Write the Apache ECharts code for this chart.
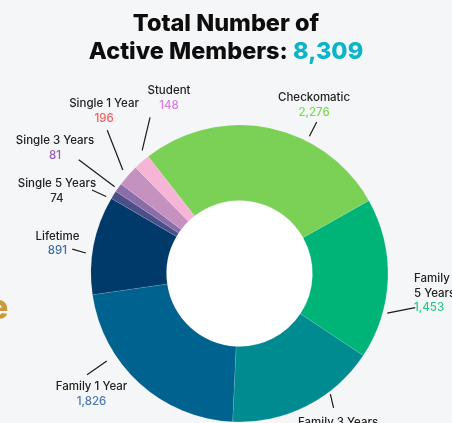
<!DOCTYPE html>
<html>
<head>
<meta charset="utf-8">
<script src="https://cdn.jsdelivr.net/npm/echarts@6/dist/echarts.min.js"></script>
<style>
  html, body { margin: 0; padding: 0; background: #f5f6f8; }
  #chart1 { width: 452px; height: 423px; }
</style>
</head>
<body>
<div id="chart1"></div>
<script>
// 会员类型 (顺时针, 从 Checkomatic 开始)
var categories = ['Checkomatic', 'Family 5 Years', 'Family 3 Years', 'Family 1 Year', 'Lifetime',
    'Single 5 Years', 'Single 3 Years', 'Single 1 Year', 'Student'];
var members = [2276, 1453, 1364, 1826, 891, 74, 81, 196, 148];
var total = 8309;

// 扇区颜色 / 数值文字颜色
var sliceColors = ['#7bd155', '#00b478', '#008b91', '#00628e', '#003a6b',
    '#4a4f88', '#8a6ea8', '#c592c0', '#f6b5d6'];
var valueColors = ['#7ed957', '#2ec98a', '#1f9aa0', '#4a78b5', '#3e6fa6',
    '#2b2b2b', '#9b59b6', '#f0605d', '#d77fe6'];

// 标签位置 (角度: 从正上方顺时针; 引线 [a0, r0, a1, r1], 文字 [角度, 半径, 对齐])
var leader = [[27, 154, 27, 170], [105, 153, 101, 179], [143, 151, 145, 164], [236.6, 159, 236.4, 183],
    [277.6, 155, 278.3, 169], [300, 154, 299.5, 169.5], [304.8, 152, 305.3, 197], [311.6, 156, 317.3, 195],
    [321.7, 157, 330.2, 180]];
var labelAt = [[23.9, 184, 'center'], [96.5, 175.6, 'left'], [147.7, 184.5, 'center'], [230.8, 191, 'center'],
    [279.4, 184.5, 'center'], [294.3, 200.3, 'center'], [304.2, 223, 'center'], [320.2, 211.6, 'center'],
    [338.1, 189, 'center']];

var cx = 239.5, cy = 273.5;
function polar(a, r) {
    var t = a * Math.PI / 180;
    return [cx + r * Math.sin(t), cy - r * Math.cos(t)];
}

var chart1 = echarts.init(document.getElementById('chart1'));

var option = {
    backgroundColor: '#f5f6f8',
    title: {
        left: 'center',
        top: 5,
        text: '{a|Total Number of}\n{a|Active Members: }{b|' + total.toLocaleString('en-US') + '}',
        textStyle: {
            rich: {
                a: { fontFamily: 'Inter', fontWeight: 800, fontSize: 23.5, color: '#0d0d0d', lineHeight: 28 },
                b: { fontFamily: 'Inter', fontWeight: 800, fontSize: 23.5, color: '#0bb5c9', lineHeight: 28 }
            }
        }
    },
    graphic: [{
        type: 'text',
        left: -12,
        top: 292,
        style: { text: 'e', font: '800 34px Inter', fill: '#c99a3c' }
    }],
    series: [
        {
            type: 'pie',
            silent: true,
            center: [cx, cy],
            radius: [0, 73],
            label: { show: false },
            labelLine: { show: false },
            itemStyle: { color: '#ffffff' },
            data: [1],
            z: 1
        },
        {
            type: 'pie',
            center: [cx, cy],
            radius: [73, 148.5],
            startAngle: 128,
            clockwise: true,
            avoidLabelOverlap: false,
            itemStyle: { borderColor: 'rgba(255,255,255,0.2)', borderWidth: 0.6 },
            label: {
                show: true,
                position: 'outside',
                formatter: function (p) {
                    var nm = p.name === 'Family 5 Years' ? 'Family\n5 Years' : p.name;
                    var lines = nm.split('\n').map(function (s) { return '{n|' + s + '}'; }).join('\n');
                    return lines + '\n{v' + p.dataIndex + '|' + p.value.toLocaleString('en-US') + '}';
                },
                rich: (function () {
                    var r = { n: { fontFamily: 'Inter', fontWeight: 500, fontSize: 11.5, color: '#222', lineHeight: 14.5 } };
                    valueColors.forEach(function (c, i) {
                        r['v' + i] = { fontFamily: 'Inter', fontWeight: 500, fontSize: 11.5, color: c, lineHeight: 14.5 };
                    });
                    return r;
                })()
            },
            labelLine: { show: true, length: 10, length2: 0, lineStyle: { color: '#1a1a1a', width: 1.2 } },
            labelLayout: function (p) {
                var i = p.dataIndex;
                var l = leader[i], t = labelAt[i];
                var pos = polar(t[0], t[1]);
                var x = pos[0];
                if (t[2] === 'left') { x = 414; }
                var s = polar(l[0], l[1]), e = polar(l[2], l[3]);
                return {
                    x: x,
                    y: pos[1],
                    align: t[2],
                    verticalAlign: 'middle',
                    labelLinePoints: [s, e, e]
                };
            },
            data: categories.map(function (c, i) {
                return { name: c, value: members[i], itemStyle: { color: sliceColors[i] } };
            }),
            z: 2
        }
    ]
};

chart1.setOption(option);
</script>
</body>
</html>
